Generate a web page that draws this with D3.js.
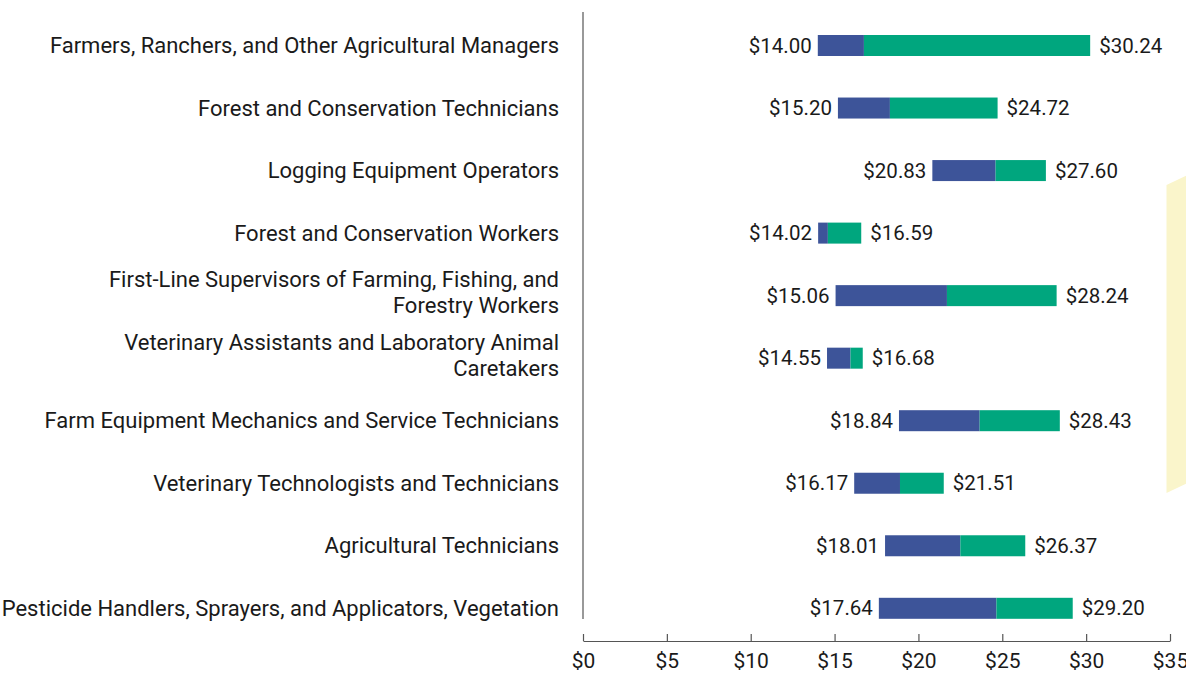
<!DOCTYPE html>
<html>
<head>
<meta charset="utf-8">
<script src="https://cdn.jsdelivr.net/npm/d3@7/dist/d3.min.js"></script>
<style>
  html, body { margin: 0; padding: 0; background: #ffffff; }
  svg { display: block; }
  text { font-family: Roboto, "DejaVu Sans", sans-serif; fill: #1a1a1a; }
</style>
</head>
<body>
<svg id="chart" width="1186" height="674"></svg>
<script>
// ---- data ----
const occupations = [
  ["Farmers, Ranchers, and Other Agricultural Managers"],
  ["Forest and Conservation Technicians"],
  ["Logging Equipment Operators"],
  ["Forest and Conservation Workers"],
  ["First-Line Supervisors of Farming, Fishing, and", "Forestry Workers"],
  ["Veterinary Assistants and Laboratory Animal", "Caretakers"],
  ["Farm Equipment Mechanics and Service Technicians"],
  ["Veterinary Technologists and Technicians"],
  ["Agricultural Technicians"],
  ["Pesticide Handlers, Sprayers, and Applicators, Vegetation"]
];
const lowWage  = [14.00, 15.20, 20.83, 14.02, 15.06, 14.55, 18.84, 16.17, 18.01, 17.64];
const midWage  = [16.75, 18.30, 24.60, 14.60, 21.70, 15.95, 23.65, 18.90, 22.50, 24.65];
const highWage = [30.24, 24.72, 27.60, 16.59, 28.24, 16.68, 28.43, 21.51, 26.37, 29.20];
const xTicks = [0, 5, 10, 15, 20, 25, 30, 35];

// ---- layout ----
const svg = d3.select("#chart");
const x = d3.scaleLinear().domain([0, 35]).range([583, 1170]);
const y = d3.scalePoint().domain(d3.range(occupations.length)).range([45.5, 608.3]);
const barH = 21;
const blue = "#3d5499", green = "#00a67e";
const fmt = v => "$" + v.toFixed(2);

// decorative pale shape at right
svg.append("polygon")
  .attr("points", "1166.5,185 1190,174 1190,482 1166.5,493")
  .attr("fill", "#faf5cb");

// vertical category axis line
svg.append("line")
  .attr("x1", 583).attr("x2", 583)
  .attr("y1", 12).attr("y2", 619)
  .attr("stroke", "#555").attr("stroke-width", 1.2);

// bottom axis
const axisG = svg.append("g").attr("transform", "translate(0,641)");
axisG.call(d3.axisBottom(x).tickValues(xTicks).tickSizeInner(-7).tickSizeOuter(0).tickFormat(d => "$" + d));
axisG.select(".domain").attr("stroke", "#555").attr("stroke-width", 1.2);
axisG.selectAll(".tick line").attr("stroke", "#555").attr("stroke-width", 1.2);
axisG.selectAll(".tick text")
  .attr("y", 27).attr("dy", "0")
  .style("font-family", "Roboto, sans-serif")
  .style("font-size", "21px").attr("fill", "#1a1a1a");

// category labels
const labels = svg.append("g");
occupations.forEach((lines, i) => {
  const cy = y(i);
  const n = lines.length;
  const lh = 26;
  const t = labels.append("text")
    .attr("text-anchor", "end")
    .attr("x", 559)
    .style("font-size", "22px");
  lines.forEach((ln, j) => {
    const off = n === 1 ? 0 : (j - (n - 1) / 2) * lh - 3;
    t.append("tspan").attr("x", 559).attr("y", cy + off).attr("dy", "0.35em").text(ln);
  });
});

// bars
const bars = svg.append("g");
bars.selectAll("rect.low").data(lowWage).join("rect")
  .attr("class", "low")
  .attr("x", (d) => x(d))
  .attr("y", (d, i) => y(i) - barH / 2)
  .attr("width", (d, i) => x(midWage[i]) - x(d))
  .attr("height", barH)
  .attr("fill", blue);
bars.selectAll("rect.high").data(highWage).join("rect")
  .attr("class", "high")
  .attr("x", (d, i) => x(midWage[i]))
  .attr("y", (d, i) => y(i) - barH / 2)
  .attr("width", (d, i) => x(d) - x(midWage[i]))
  .attr("height", barH)
  .attr("fill", green);

// value labels
bars.selectAll("text.lo").data(lowWage).join("text")
  .attr("class", "lo")
  .attr("text-anchor", "end")
  .attr("x", d => x(d) - 6)
  .attr("y", (d, i) => y(i))
  .attr("dy", "0.35em")
  .style("font-size", "20.5px")
  .text(fmt);
bars.selectAll("text.hi").data(highWage).join("text")
  .attr("class", "hi")
  .attr("text-anchor", "start")
  .attr("x", d => x(d) + 9)
  .attr("y", (d, i) => y(i))
  .attr("dy", "0.35em")
  .style("font-size", "20.5px")
  .text(fmt);
</script>
</body>
</html>
